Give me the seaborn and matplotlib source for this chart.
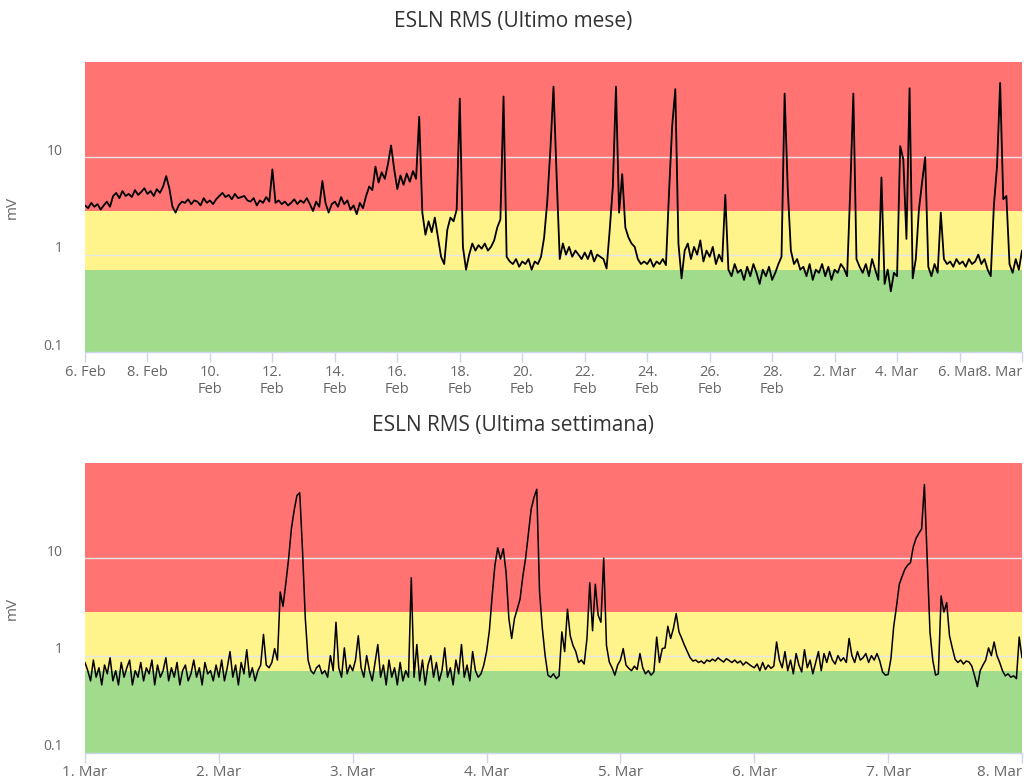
import numpy as np
import pandas as pd
import matplotlib
matplotlib.use("Agg")
import matplotlib.pyplot as plt
import seaborn as sns
from matplotlib.transforms import ScaledTranslation
from matplotlib.ticker import NullLocator

# ---------------- data ----------------
TITLE_MONTH = "ESLN RMS (Ultimo mese)"
TITLE_WEEK = "ESLN RMS (Ultima settimana)"
Y_LABEL = "mV"

# thresholds for coloured bands (mV)
GREEN_MAX = 0.7
YELLOW_MAX = 2.8

# monthly RMS, one value every 0.1 day starting 6 Feb 00:00
month_start = "2023-02-06"
month_step = "144min"
month_values = [
    3.2, 3.0, 3.4, 3.1, 3.3, 2.9, 3.2, 3.5, 3.1, 4.0,
    4.3, 3.8, 4.5, 4.0, 4.2, 3.9, 4.6, 4.1, 4.4, 4.8,
    4.2, 4.5, 4.0, 4.7, 4.3, 5.0, 6.4, 4.8, 3.1, 2.7,
    3.2, 3.5, 3.4, 3.7, 3.3, 3.6, 3.5, 3.2, 3.8, 3.4,
    3.6, 3.3, 3.7, 4.0, 4.3, 3.9, 4.1, 3.7, 4.2, 3.8,
    3.9, 4.0, 3.6, 3.5, 3.8, 3.2, 3.6, 3.4, 3.9, 3.5,
    7.5, 3.4, 3.6, 3.3, 3.5, 3.2, 3.4, 3.7, 3.3, 3.6,
    3.4, 3.8, 3.3, 2.8, 3.5, 3.1, 5.7, 3.4, 2.7, 3.3,
    3.5, 3.1, 3.9, 3.3, 3.6, 2.9, 3.2, 2.6, 3.4, 3.0,
    4.0, 5.0, 4.6, 8.0, 5.5, 7.0, 6.0, 8.5, 13.2, 7.5,
    4.7, 6.5, 5.2, 6.8, 5.6, 7.2, 6.0, 26.0, 2.7, 1.6,
    2.2, 1.7, 2.4, 1.5, 0.95, 0.8, 1.8, 2.4, 2.2, 2.9,
    40.0, 1.2, 0.7, 1.0, 1.3, 1.1, 1.25, 1.15, 1.3, 1.1,
    1.2, 1.4, 1.9, 2.3, 42.0, 0.95, 0.85, 0.8, 0.9, 0.75,
    0.85, 0.8, 0.9, 0.7, 0.85, 0.8, 0.95, 1.5, 3.5, 12.0,
    53.0, 6.4, 0.9, 1.3, 1.0, 1.2, 0.95, 1.1, 1.0, 0.9,
    1.05, 0.9, 1.1, 0.85, 1.0, 0.95, 0.9, 0.72, 1.8, 5.0,
    53.0, 2.7, 6.7, 1.9, 1.5, 1.3, 1.2, 0.9, 0.8, 0.85,
    0.8, 0.9, 0.75, 0.85, 0.8, 0.9, 0.78, 4.4, 21.0, 50.0,
    1.3, 0.57, 1.1, 1.3, 0.9, 1.2, 1.0, 1.4, 0.85, 1.1,
    0.95, 1.2, 0.8, 1.0, 0.85, 4.1, 0.7, 0.6, 0.8, 0.65,
    0.7, 0.55, 0.75, 0.6, 0.8, 0.65, 0.5, 0.7, 0.6, 0.75,
    0.55, 0.65, 0.8, 0.95, 45.0, 4.7, 1.1, 0.8, 0.9, 0.7,
    0.75, 0.6, 0.8, 0.55, 0.7, 0.65, 0.8, 0.6, 0.75, 0.55,
    0.7, 0.65, 0.8, 0.72, 0.6, 4.5, 45.0, 0.9, 0.75, 0.65,
    0.8, 0.6, 0.9, 0.7, 0.55, 6.2, 0.5, 0.7, 0.42, 0.65,
    0.6, 13.0, 9.5, 1.45, 51.0, 0.57, 0.9, 2.9, 5.5, 10.0,
    0.75, 0.6, 0.8, 0.65, 2.7, 0.9, 0.8, 0.85, 0.75, 0.9,
    0.8, 0.85, 0.75, 0.9, 0.8, 0.85, 1.0, 0.8, 0.9, 0.7,
    0.6, 3.2, 8.0, 58.0, 3.7, 4.0, 0.8, 0.65, 0.9, 0.7,
    1.1,
]

# weekly RMS, one value every 30 min starting 1 Mar 00:00
week_start = "2023-03-01"
week_step = "30min"
week_values = [
    # 1 Mar
    0.85, 0.7, 0.55, 0.9, 0.6, 0.75, 0.5, 0.8, 0.65, 0.95, 0.55, 0.7,
    0.5, 0.85, 0.6, 0.75, 0.9, 0.5, 0.7, 0.6, 0.85, 0.55, 0.75, 0.65,
    0.9, 0.5, 0.8, 0.6, 0.7, 0.95, 0.55, 0.75, 0.6, 0.85, 0.5, 0.7,
    0.8, 0.55, 0.65, 0.9, 0.6, 0.75, 0.5, 0.85, 0.65, 0.7, 0.55, 0.8,
    # 2 Mar
    0.6, 0.9, 0.55, 0.75, 1.1, 0.6, 0.8, 0.5, 0.85, 0.65, 1.15, 0.6,
    0.75, 0.55, 0.7, 0.8, 1.65, 0.8, 0.75, 0.85, 1.18, 0.9, 4.5, 3.2,
    5.5, 9.8, 20.0, 31.0, 44.0, 47.0, 12.0, 2.4, 0.9, 0.7, 0.65, 0.75,
    0.8, 0.65, 0.7, 0.6, 1.0, 0.7, 2.2, 0.75, 0.6, 1.2, 0.65, 0.8,
    # 3 Mar
    0.7, 0.9, 1.6, 0.75, 0.6, 1.0, 0.7, 0.55, 0.85, 1.3, 0.6, 0.8,
    0.5, 0.9, 0.6, 0.75, 0.5, 0.85, 0.55, 0.7, 0.6, 6.3, 0.6, 1.3,
    0.55, 0.9, 0.5, 0.8, 1.0, 0.6, 0.85, 0.55, 0.7, 1.2, 0.6, 0.75,
    0.5, 0.9, 0.65, 1.3, 0.6, 0.8, 0.55, 1.1, 0.7, 0.6, 0.65, 0.8,
    # 4 Mar
    1.1, 1.8, 4.1, 8.5, 12.8, 9.8, 12.5, 7.1, 2.4, 1.5, 2.4, 3.0,
    3.8, 6.5, 10.0, 18.0, 32.0, 42.0, 51.0, 4.5, 1.9, 1.0, 0.63, 0.6,
    0.65, 0.58, 0.62, 1.75, 1.1, 3.0, 1.6, 1.27, 1.1, 0.85, 0.9, 0.82,
    1.5, 5.6, 1.8, 5.4, 2.6, 2.2, 10.0, 1.27, 0.86, 0.75, 0.63, 0.8,
    # 5 Mar
    0.9, 1.18, 0.8, 0.74, 0.7, 0.78, 0.72, 1.05, 0.75, 0.65, 0.7, 0.63,
    0.68, 1.55, 0.85, 1.18, 1.2, 2.0, 1.5, 1.9, 2.7, 1.75, 1.5, 1.27,
    1.1, 0.95, 0.88, 0.9, 0.85, 0.88, 0.83, 0.9, 0.87, 0.92, 0.88, 0.95,
    0.9, 0.86, 0.93, 0.89, 0.85, 0.9, 0.84, 0.88, 0.8, 0.86, 0.82, 0.78,
    # 6 Mar
    0.75, 0.82, 0.7, 0.85, 0.72, 0.8, 0.74, 0.78, 1.38, 0.9, 0.75, 1.1,
    0.7, 0.9, 0.65, 1.05, 0.8, 0.68, 1.15, 0.75, 0.9, 0.65, 0.85, 1.1,
    0.7, 1.05, 0.85, 1.1, 0.9, 0.82, 1.0, 0.88, 0.95, 0.85, 1.5, 1.0,
    0.85, 1.1, 0.9, 0.95, 1.05, 0.85, 1.0, 0.9, 1.05, 0.88, 0.68, 0.63,
    # 7 Mar
    0.64, 0.93, 2.0, 3.2, 5.4, 6.5, 7.7, 8.5, 9.0, 13.0, 16.0, 18.0,
    20.0, 57.0, 9.8, 1.75, 0.9, 0.63, 0.65, 4.1, 2.8, 3.5, 1.6, 1.2,
    0.92, 0.85, 0.9, 0.82, 0.88, 0.86, 0.78, 0.62, 0.48, 0.7, 0.8, 0.9,
    1.2, 1.0, 1.38, 1.0, 0.85, 0.7, 0.62, 0.65, 0.6, 0.62, 0.58, 1.55,
    # 8 Mar 00:00
    0.95,
]

month_ticks = pd.date_range("2023-02-06", "2023-03-08", freq="2D")
week_ticks = pd.date_range("2023-03-01", "2023-03-08", freq="1D")
month_names = {2: "Feb", 3: "Mar"}

# ---------------- style ----------------
sns.set_theme(style="white")
plt.rcParams["font.family"] = ["Open Sans", "DejaVu Sans"]

RED = "#FF7373"
YELLOW = "#FFF38C"
GREEN = "#A1DC8D"
GRID = "#E6E6E6"
AXIS = "#CCD6EB"
LABEL = "#666666"

W, H = 1027, 778
fig = plt.figure(figsize=(W / 100, H / 100), dpi=100)
fig.patch.set_facecolor("white")

ax1 = fig.add_axes([85 / W, 1 - 352 / H, 937 / W, 290 / H])
ax2 = fig.add_axes([85 / W, 1 - 753 / H, 937 / W, 290 / H])

df_month = pd.DataFrame({
    "time": pd.date_range(month_start, periods=len(month_values), freq=month_step),
    "rms": month_values,
})
df_week = pd.DataFrame({
    "time": pd.date_range(week_start, periods=len(week_values), freq=week_step),
    "rms": week_values,
})

YMIN, YMAX = 0.1, 95

def style_axis(ax, df, xticks, xlabels, xstart, xend, label_pad, lw, xsize):
    ax.set_yscale("log")
    ax.set_ylim(YMIN, YMAX)
    ax.axhspan(YMIN, GREEN_MAX, color=GREEN, lw=0, zorder=0)
    ax.axhspan(GREEN_MAX, YELLOW_MAX, color=YELLOW, lw=0, zorder=0)
    ax.axhspan(YELLOW_MAX, YMAX, color=RED, lw=0, zorder=0)
    for g in (1, 10):
        ax.axhline(g, color=GRID, lw=1, zorder=1)
    sns.lineplot(data=df, x="time", y="rms", ax=ax, color="black",
                 linewidth=lw, zorder=3, estimator=None)
    ax.set_xlim(pd.Timestamp(xstart), pd.Timestamp(xend))
    ax.set_xticks(xticks)
    ax.set_xticklabels(xlabels, linespacing=1.15)
    labs = ax.get_xticklabels()
    labs[-1].set_horizontalalignment("right")
    labs[-1].set_transform(labs[-1].get_transform()
                           + ScaledTranslation(5 / 100, 0, fig.dpi_scale_trans))
    ax.set_yticks([0.1, 1, 10])
    ax.set_yticklabels(["0.1", "1", "10"])
    ax.yaxis.set_minor_locator(NullLocator())
    ax.xaxis.set_minor_locator(NullLocator())
    ax.set_xlabel("")
    ax.set_ylabel(Y_LABEL, fontsize=11, color=LABEL)
    ax.yaxis.set_label_coords(-0.070, 0.5)
    for s in ("top", "right", "left"):
        ax.spines[s].set_visible(False)
    ax.spines["bottom"].set_color(AXIS)
    ax.spines["bottom"].set_linewidth(1)
    ax.tick_params(axis="x", bottom=True, length=7.5, width=1, color=AXIS,
                   labelcolor=LABEL, labelsize=xsize, pad=label_pad)
    ax.tick_params(axis="y", left=False, length=0, labelcolor=LABEL,
                   labelsize=10, pad=16)
    off = ScaledTranslation(0, 8 / 100, fig.dpi_scale_trans)
    for lab in ax.get_yticklabels():
        lab.set_transform(lab.get_transform() + off)

month_labels = []
for d in month_ticks:
    if d.day >= 10:
        month_labels.append(f"{d.day}.\n{month_names[d.month]}")
    else:
        month_labels.append(f"{d.day}. {month_names[d.month]}")
week_labels = [f"{d.day}. {month_names[d.month]}" for d in week_ticks]

style_axis(ax1, df_month, month_ticks, month_labels, "2023-02-06", "2023-03-08", 2, 1.3, 10.5)
style_axis(ax2, df_week, week_ticks, week_labels, "2023-03-01", "2023-03-08", 1, 1.1, 11)

fig.text(0.5, 1 - 22 / H, TITLE_MONTH, ha="center", va="center",
         fontsize=15, color="#333333")
fig.text(0.5, 1 - 425 / H, TITLE_WEEK, ha="center", va="center",
         fontsize=15, color="#333333")

fig.savefig("out.png", dpi=100, facecolor="white")
